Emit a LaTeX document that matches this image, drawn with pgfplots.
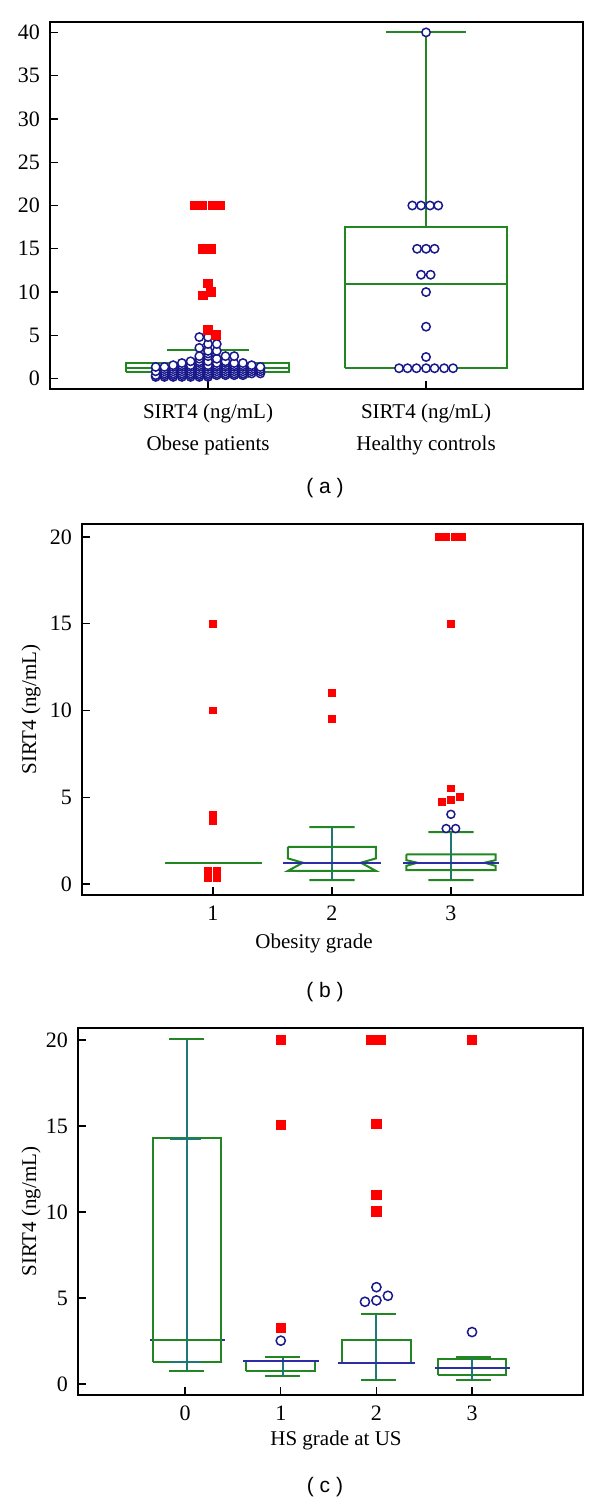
\documentclass[border=0pt]{standalone}
\usepackage{fontspec}
\setmainfont{Liberation Serif}
\newfontfamily\sansf{Liberation Sans}
\usepackage{pgfplots}
\pgfplotsset{compat=1.18}
\definecolor{bgreen}{RGB}{34,135,34}
\definecolor{bteal}{RGB}{30,120,120}
\definecolor{bblue}{RGB}{45,45,165}
\definecolor{cnavy}{RGB}{25,25,140}
\pgfplotsset{
  panel/.style={scale only axis, axis line style={black, line width=1pt},
    tickpos=left, tick align=inside, major tick length=4pt,
    tick style={black, line width=0.7pt},
    ticklabel style={font=\fontsize{11}{13}\selectfont},
    /pgf/number format/assume math mode=true,
    yticklabel style={xshift=-1.5pt}, xticklabel style={yshift=-2pt}, clip=false},
  circ/.style={only marks, mark=*, mark options={fill=white, draw=cnavy, line width=0.75pt}, mark size=#1},
  circ/.default=2.1pt,
  sq/.style={only marks, mark=square*, mark options={fill=red, draw=red, line width=0pt}, mark size=#1},
  sq/.default=2.2pt,
  gl/.style={bgreen, line width=1pt, unbounded coords=jump, mark=none},
  tl/.style={bteal, line width=1pt, unbounded coords=jump, mark=none},
  bl/.style={bblue, line width=1pt, unbounded coords=jump, mark=none},
}
\begin{document}
\begin{tikzpicture}
\useasboundingbox (0pt,0pt) rectangle (300pt,-755.5pt);
% ---------------- (a) ----------------
\begin{axis}[panel, at={(25pt,-11pt)}, anchor=north west,
  width=266.5pt, height=183.5pt,
  xmin=0.275, xmax=2.72, ymin=-1.2, ymax=41.2,
  xtick={1,2}, xticklabels={{SIRT4 (ng/mL)\\Obese patients},{SIRT4 (ng/mL)\\Healthy controls}},
  xticklabel style={align=center, font=\fontsize{10.5}{16}\selectfont, yshift=-2pt},
  ytick={0,5,...,40}]
% obese box
\addplot[gl] coordinates {(0.625,0.77)(1.37,0.77)(1.37,1.8)(0.625,1.8)(0.625,0.77)
  (nan,nan)(0.625,1.23)(1.37,1.23)
  (nan,nan)(1,1.8)(1,3.27)(nan,nan)(0.81,3.27)(1.19,3.27)
  (nan,nan)(1,0.77)(1,0.2)(nan,nan)(0.81,0.2)(1.19,0.2)};
% controls box
\addplot[gl] coordinates {(1.627,1.23)(2.373,1.23)(2.373,17.46)(1.627,17.46)(1.627,1.23)
  (nan,nan)(1.627,10.9)(2.373,10.9)
  (nan,nan)(2,17.46)(2,40)(nan,nan)(1.815,40)(2.185,40)
  (nan,nan)(1.85,1.2)(2.15,1.2)};
% obese circles
\addplot[circ] coordinates {
(0.76,0.2)(0.80,0.2)(0.84,0.2)(0.88,0.2)(0.92,0.2)(0.96,0.2)(1.00,0.2)
(0.76,0.4)(0.80,0.4)(0.84,0.4)(0.88,0.4)(0.92,0.4)(0.96,0.4)(1.00,0.4)(1.04,0.4)(1.08,0.4)(1.12,0.4)(1.16,0.4)
(0.80,0.6)(0.84,0.6)(0.88,0.6)(0.92,0.6)(0.96,0.6)(1.00,0.6)(1.04,0.6)(1.08,0.6)(1.12,0.6)(1.16,0.6)(1.20,0.6)(1.24,0.6)
(0.76,0.85)(0.80,0.85)(0.84,0.85)(0.88,0.85)(0.92,0.85)(0.96,0.85)(1.00,0.85)(1.04,0.85)(1.08,0.85)(1.12,0.85)(1.16,0.85)(1.20,0.85)(1.24,0.85)
(0.80,1.1)(0.84,1.1)(0.88,1.1)(0.92,1.1)(0.96,1.1)(1.00,1.1)(1.04,1.1)(1.08,1.1)(1.12,1.1)(1.16,1.1)(1.20,1.1)(1.24,1.1)
(0.76,1.35)(0.80,1.35)(0.84,1.35)(0.88,1.35)(0.92,1.35)(0.96,1.35)(1.00,1.35)(1.04,1.35)(1.08,1.35)(1.12,1.35)(1.16,1.35)(1.20,1.35)(1.24,1.35)
(0.84,1.55)(0.88,1.55)(0.92,1.55)(0.96,1.55)(1.00,1.55)(1.04,1.55)(1.08,1.55)(1.12,1.55)(1.16,1.55)(1.20,1.55)
(0.88,1.8)(0.96,1.8)(1.04,1.8)(1.08,1.8)(1.12,1.8)(1.16,1.8)
(0.92,2.0)(0.96,2.0)(1.00,2.0)(1.08,2.0)
(0.96,2.3)(1.04,2.3)
(0.96,2.6)(1.00,2.6)(1.08,2.6)(1.12,2.6)
(1.00,2.9)
(1.00,3.2)(1.04,3.2)
(0.96,3.55)
(1.00,4.0)(1.04,4.0)
(0.96,4.8)(1.00,4.8)};
% controls circles
\addplot[circ] coordinates {(2,40)(1.937,20)(1.977,20)(2.018,20)(2.056,20)
  (1.959,15)(2,15)(2.039,15)(1.977,12)(2.021,12)(2,10)(2,6)(2,2.5)
  (1.876,1.2)(1.915,1.2)(1.956,1.2)(2,1.2)(2.039,1.2)(2.083,1.2)(2.124,1.2)};
% obese red squares
\addplot[sq] coordinates {(0.94,20)(0.975,20)(1.02,20)(1.055,20)(0.977,15)(1.014,15)
  (1.0,11)(1.014,10)(0.977,9.6)(1.0,5.6)(1.037,5.0)};
\end{axis}
\node[font=\sansf\fontsize{10.5}{12}\selectfont] at (162.5pt,-244pt) {( a )};
% ---------------- (b) ----------------
\begin{axis}[panel, at={(41pt,-262pt)}, anchor=north west,
  width=250.5pt, height=185.5pt,
  xmin=-0.1, xmax=4.11, ymin=-0.63, ymax=20.75,
  xtick={1,2,3}, ytick={0,5,...,20}]
% grade 1
\addplot[gl] coordinates {(0.6,1.2)(1.41,1.2)};
% grade 2
\addplot[tl] coordinates {(2,0.23)(2,3.28)};
\addplot[gl] coordinates {(1.63,2.15)(2.37,2.15)(2.37,1.48)(2.244,1.23)(2.37,0.76)(1.63,0.76)(1.756,1.23)(1.63,1.48)(1.63,2.15)
  (nan,nan)(1.81,3.28)(2.19,3.28)(nan,nan)(1.81,0.23)(2.19,0.23)};
\addplot[bl] coordinates {(1.59,1.23)(2.41,1.23)};
% grade 3
\addplot[tl] coordinates {(3,0.23)(3,3.0)};
\addplot[gl] coordinates {(2.625,1.71)(3.375,1.71)(3.375,1.38)(3.283,1.23)(3.375,1.05)(3.375,0.81)(2.625,0.81)(2.625,1.05)(2.717,1.23)(2.625,1.38)(2.625,1.71)
  (nan,nan)(2.81,3.0)(3.19,3.0)(nan,nan)(2.81,0.23)(3.19,0.23)};
\addplot[bl] coordinates {(2.6,1.23)(3.4,1.23)};
\addplot[circ=2pt] coordinates {(3,4.02)(2.96,3.2)(3.04,3.2)};
\addplot[sq=1.7pt] coordinates {(1,15)(1,10)(1,4.0)(1,3.64)(0.96,0.78)(0.96,0.37)(1.034,0.78)(1.034,0.37)
  (2,11)(2,9.5)
  (2.9,20)(2.958,20)(3.036,20)(3.094,20)(3,15)(3,5.51)(3,4.84)(2.924,4.75)(3.078,5.03)};
\end{axis}
\node[rotate=90, font=\fontsize{10.5}{12}\selectfont] at (15.5pt,-354.75pt) {SIRT4 (ng/mL)};
\node[font=\fontsize{10.5}{12}\selectfont] at (157pt,-471.5pt) {Obesity grade};
\node[font=\sansf\fontsize{10.5}{12}\selectfont] at (162.5pt,-496pt) {( b )};
% ---------------- (c) ----------------
\begin{axis}[panel, at={(39pt,-514pt)}, anchor=north west,
  width=252.5pt, height=183.5pt,
  xmin=-1.12, xmax=4.16, ymin=-0.64, ymax=20.7,
  xtick={0,1,2,3}, ytick={0,5,...,20}]
% grade 0
\addplot[bl] coordinates {(-0.37,2.58)(0.42,2.58)};
\addplot[gl] coordinates {(-0.34,1.28)(0.38,1.28)(0.38,14.29)(-0.34,14.29)(-0.34,1.28)
  (nan,nan)(-0.34,2.58)(0.38,2.58)
  (nan,nan)(-0.165,20.04)(0.2,20.04)(nan,nan)(-0.165,0.74)(0.2,0.74)};
\addplot[tl] coordinates {(0.02,0.74)(0.02,20.04)(nan,nan)(-0.16,14.25)(0.17,14.25)(nan,nan)(-0.16,1.3)(0.17,1.3)};
% grade 1
\addplot[gl] coordinates {(0.64,0.74)(1.36,0.74)(1.36,1.32)(0.64,1.32)(0.64,0.74)
  (nan,nan)(0.835,1.57)(1.2,1.57)(nan,nan)(0.835,0.45)(1.2,0.45)};
\addplot[tl] coordinates {(1.02,0.45)(1.02,1.57)};
\addplot[bl] coordinates {(0.61,1.32)(1.4,1.32)};
% grade 2
\addplot[gl] coordinates {(1.635,1.22)(2.365,1.22)(2.365,2.58)(1.635,2.58)(1.635,1.22)
  (nan,nan)(1.84,4.07)(2.2,4.07)(nan,nan)(1.84,0.25)(2.2,0.25)};
\addplot[tl] coordinates {(2.0,0.25)(2.0,4.07)};
\addplot[bl] coordinates {(1.6,1.22)(2.4,1.22)};
% grade 3
\addplot[gl] coordinates {(2.64,0.5)(3.36,0.5)(3.36,1.45)(2.64,1.45)(2.64,0.5)
  (nan,nan)(2.835,1.55)(3.2,1.55)(nan,nan)(2.835,0.25)(3.2,0.25)};
\addplot[tl] coordinates {(3.0,0.25)(3.0,1.55)};
\addplot[bl] coordinates {(2.61,0.91)(3.4,0.91)};
\addplot[circ=2.3pt] coordinates {(1,2.52)(2,5.63)(2,4.86)(1.88,4.78)(2.12,5.13)(3,3.02)};
\addplot[sq=2.3pt] coordinates {(1,20)(1,15.08)(1,3.25)
  (1.94,20)(2.052,20)(2,15.1)(2,11)(2,10.03)(3,20)};
\end{axis}
\node[rotate=90, font=\fontsize{10.5}{12}\selectfont] at (15.5pt,-605.75pt) {SIRT4 (ng/mL)};
\node[font=\fontsize{10.5}{12}\selectfont] at (168pt,-720pt) {HS grade at US};
\node[font=\sansf\fontsize{10.5}{12}\selectfont] at (162.5pt,-743.5pt) {( c )};
\end{tikzpicture}
\end{document}
